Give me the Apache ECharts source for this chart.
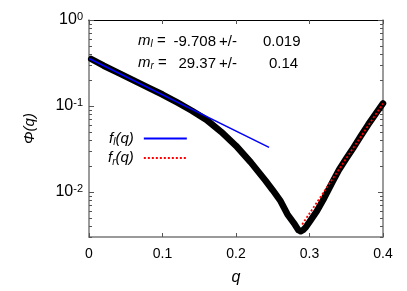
<!DOCTYPE html>
<html>
<head>
<meta charset="utf-8">
<script src="https://cdn.jsdelivr.net/npm/echarts@6/dist/echarts.min.js"></script>
<style>html,body{margin:0;padding:0;background:#fff}#c{width:407px;height:291px}</style>
</head>
<body>
<div id="c"></div>
<script>
// Data
const qData = [0.003,0.02,0.04,0.06,0.08,0.10,0.12,0.14,0.16,0.18,0.20,0.22,0.24,0.25,0.26,0.27,0.28,0.285,0.288,0.291,0.295,0.30,0.31,0.32,0.33,0.34,0.35,0.36,0.37,0.38,0.39,0.40];
const phiData = [0.352,0.294,0.243,0.200,0.165,0.136,0.110,0.088,0.069,0.050,0.0345,0.0222,0.0136,0.0105,0.0080,0.0055,0.0042,0.0036,0.0035,0.0036,0.0039,0.0045,0.0060,0.0085,0.0125,0.0180,0.0245,0.033,0.045,0.061,0.081,0.107];
const qLeftFit = [0.0, 0.245];
const phiLeftFit = [0.357, 0.0331];
const qRightFit = [0.290, 0.400];
const phiRightFit = [0.0042, 0.107];
const xTicks = [0, 0.1, 0.2, 0.3, 0.4];
const yDecades = [0.01, 0.1, 1];
const yMin = 0.003, yMax = 1;
const fitLabels = ['l', 'r'];
const fitSlopes = ['-9.708', '29.37'];
const fitErrors = ['0.019', '0.14'];

const L = v => Math.log10(v);
const pairs = (xs, ys) => xs.map((x, i) => [x, L(ys[i])]);
const majorVals = yDecades.map(L);
const minorVals = [];
for (let e = -3; e <= -1; e++) for (let k = 2; k <= 9; k++) {
  const v = k * Math.pow(10, e);
  if (v >= yMin && v <= yMax) minorVals.push(L(v));
}
const FONT = 'Liberation Sans';
const grey = '#7a7a7a';

function yAxisDef(pos, vals, len, showLabel, showLine, lineColor) {
  return {
    type: 'value', position: pos, min: L(yMin), max: L(yMax),
    splitLine: {show: false},
    axisLine: {show: showLine, onZero: false, lineStyle: {color: lineColor, width: 1.5}},
    axisTick: {show: true, inside: true, length: len, customValues: vals, lineStyle: {color: '#555', width: 1}},
    axisLabel: {show: showLabel, customValues: majorVals, margin: 6,
      formatter: v => '{b|10}{s|' + Math.round(v) + '}',
      rich: {b: {fontFamily: FONT, fontSize: 16, color: '#000', lineHeight: 18},
             s: {fontFamily: FONT, fontSize: 11, color: '#000', verticalAlign: 'top', lineHeight: 12}}},
    name: pos === 'left' && showLabel ? '\u03A6(q)' : '',
    nameLocation: 'middle', nameGap: 52,
    nameTextStyle: {fontFamily: FONT, fontSize: 15, fontStyle: 'italic', color: '#000'}
  };
}

const legendRich = {
  i: {fontFamily: FONT, fontSize: 15, fontStyle: 'italic', color: '#000', lineHeight: 18},
  s: {fontFamily: FONT, fontSize: 10, fontStyle: 'italic', color: '#000', verticalAlign: 'bottom', lineHeight: 12},
  g: {width: 5}
};

const graphics = [];
fitLabels.forEach((lab, i) => {
  const y = 33 + i * 22;
  graphics.push({type: 'text', left: 138, top: y, style: {
    text: '{i|m}{s|' + lab + '}{t| =}', rich: {
      i: {fontFamily: FONT, fontSize: 15, fontStyle: 'italic', fill: '#000', lineHeight: 18},
      s: {fontFamily: FONT, fontSize: 10, fontStyle: 'italic', fill: '#000', verticalAlign: 'bottom', lineHeight: 12},
      t: {fontFamily: FONT, fontSize: 15, fill: '#000', lineHeight: 18}}}});
  graphics.push({type: 'text', right: 407 - 216, top: y, style: {text: fitSlopes[i] + '', font: '15px "Liberation Sans"', fill: '#000', lineHeight: 18}});
  graphics.push({type: 'text', left: 219, top: y, style: {text: '+/-', font: '15px "Liberation Sans"', fill: '#000', lineHeight: 18}});
  graphics.push({type: 'text', left: i === 0 ? 263 : 269, top: y, style: {text: fitErrors[i], font: '15px "Liberation Sans"', fill: '#000', lineHeight: 18}});
});

const option = {
  animation: false,
  grid: {left: 89, right: 24, top: 20, bottom: 52, containLabel: false},
  xAxis: [{
    type: 'value', min: 0, max: 0.4, interval: 0.1, position: 'bottom',
    splitLine: {show: false},
    axisLine: {onZero: false, lineStyle: {color: grey, width: 1.5}},
    axisTick: {inside: true, length: 4, lineStyle: {color: '#555'}},
    axisLabel: {fontFamily: FONT, fontSize: 14, color: '#000', margin: 10, formatter: v => String(Math.round(v * 10) / 10)},
    name: 'q', nameLocation: 'middle', nameGap: 33,
    nameTextStyle: {fontFamily: FONT, fontSize: 16, fontStyle: 'italic', color: '#000'}
  }, {
    type: 'value', min: 0, max: 0.4, interval: 0.1, position: 'top',
    splitLine: {show: false},
    axisLine: {onZero: false, lineStyle: {color: '#000', width: 1}},
    axisTick: {inside: true, length: 4, lineStyle: {color: '#555'}},
    axisLabel: {show: false}
  }],
  yAxis: [
    yAxisDef('left', majorVals, 5, true, true, grey),
    yAxisDef('left', minorVals, 3, false, false, grey),
    yAxisDef('right', majorVals, 5, false, true, grey),
    yAxisDef('right', minorVals, 3, false, false, grey)
  ],
  legend: {
    data: ['fl', 'fr'], orient: 'vertical', align: 'right',
    left: 108, top: 131, padding: 0, itemGap: 3, itemWidth: 43, itemHeight: 18,
    itemStyle: {opacity: 0},
    formatter: n => '{i|f}{s|' + n.slice(1) + '}{i|(q)}{g|}',
    textStyle: {rich: legendRich}
  },
  graphic: graphics,
  series: [{
    name: 'data', type: 'line', data: pairs(qData, phiData), symbol: 'none',
    lineStyle: {color: '#000', width: 6.5, cap: 'round', join: 'round'}, z: 2
  }, {
    name: 'fl', type: 'line', data: pairs(qLeftFit, phiLeftFit), symbol: 'none',
    lineStyle: {color: '#0000ff', width: 1.5}, itemStyle: {color: '#0000ff'}, z: 3
  }, {
    name: 'fr', type: 'line', data: pairs(qRightFit, phiRightFit), symbol: 'none',
    lineStyle: {color: '#ff0000', width: 1.8, type: [2, 2]}, itemStyle: {color: '#ff0000'}, z: 4
  }]
};
const chart = echarts.init(document.getElementById('c'), null, {renderer: 'canvas'});
chart.setOption(option);
</script>
</body>
</html>
